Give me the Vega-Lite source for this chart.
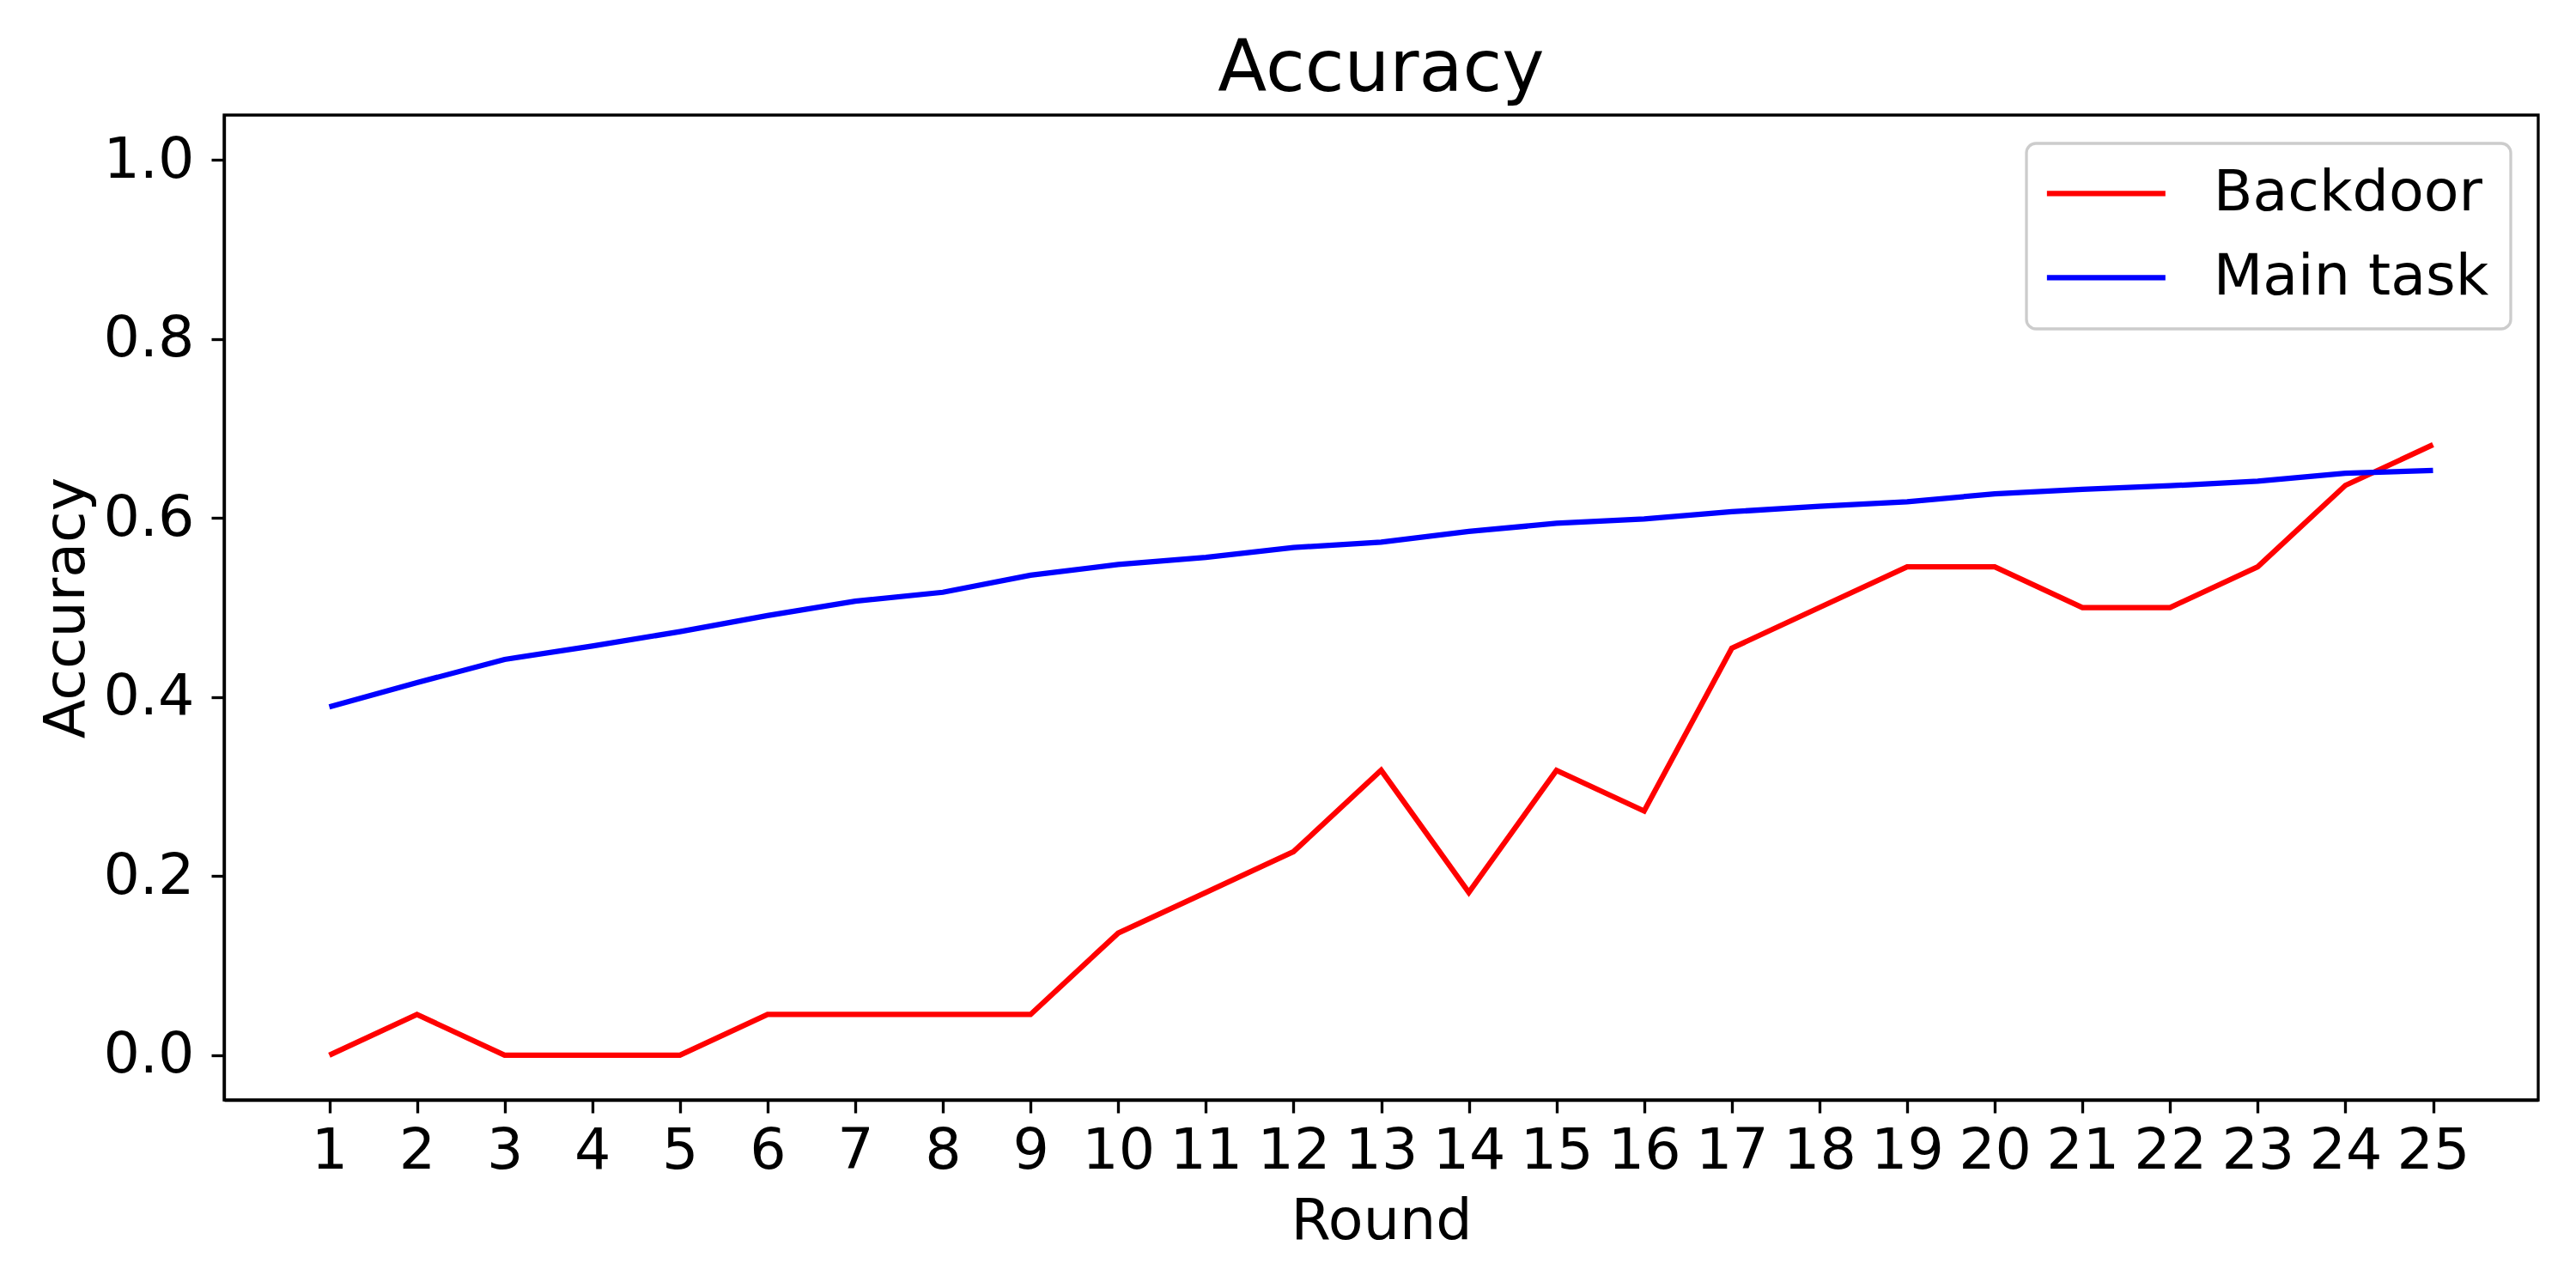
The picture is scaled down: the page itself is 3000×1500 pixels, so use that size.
{
  "$schema": "https://vega.github.io/schema/vega-lite/v6.json",
  "autosize": {"type": "none"},
  "padding": {"left": 261, "top": 134, "right": 44, "bottom": 219},
  "width": 2695,
  "height": 1147,
  "background": "white",
  "title": {
    "text": "Accuracy",
    "font": "DejaVu Sans",
    "fontSize": 83.3,
    "fontWeight": "normal",
    "color": "black",
    "baseline": "alphabetic",
    "offset": -55,
    "anchor": "middle"
  },
  "data": {
    "values": [
      {"round": 1, "series": "Backdoor", "acc": 0.0},
      {"round": 2, "series": "Backdoor", "acc": 0.0455},
      {"round": 3, "series": "Backdoor", "acc": 0.0},
      {"round": 4, "series": "Backdoor", "acc": 0.0},
      {"round": 5, "series": "Backdoor", "acc": 0.0},
      {"round": 6, "series": "Backdoor", "acc": 0.0455},
      {"round": 7, "series": "Backdoor", "acc": 0.0455},
      {"round": 8, "series": "Backdoor", "acc": 0.0455},
      {"round": 9, "series": "Backdoor", "acc": 0.0455},
      {"round": 10, "series": "Backdoor", "acc": 0.1364},
      {"round": 11, "series": "Backdoor", "acc": 0.1818},
      {"round": 12, "series": "Backdoor", "acc": 0.2273},
      {"round": 13, "series": "Backdoor", "acc": 0.3182},
      {"round": 14, "series": "Backdoor", "acc": 0.1818},
      {"round": 15, "series": "Backdoor", "acc": 0.3182},
      {"round": 16, "series": "Backdoor", "acc": 0.2727},
      {"round": 17, "series": "Backdoor", "acc": 0.4545},
      {"round": 18, "series": "Backdoor", "acc": 0.5},
      {"round": 19, "series": "Backdoor", "acc": 0.5455},
      {"round": 20, "series": "Backdoor", "acc": 0.5455},
      {"round": 21, "series": "Backdoor", "acc": 0.5},
      {"round": 22, "series": "Backdoor", "acc": 0.5},
      {"round": 23, "series": "Backdoor", "acc": 0.5455},
      {"round": 24, "series": "Backdoor", "acc": 0.6364},
      {"round": 25, "series": "Backdoor", "acc": 0.6818},
      {"round": 1, "series": "Main task", "acc": 0.389},
      {"round": 2, "series": "Main task", "acc": 0.416},
      {"round": 3, "series": "Main task", "acc": 0.442},
      {"round": 4, "series": "Main task", "acc": 0.457},
      {"round": 5, "series": "Main task", "acc": 0.473},
      {"round": 6, "series": "Main task", "acc": 0.491},
      {"round": 7, "series": "Main task", "acc": 0.507},
      {"round": 8, "series": "Main task", "acc": 0.517},
      {"round": 9, "series": "Main task", "acc": 0.536},
      {"round": 10, "series": "Main task", "acc": 0.548},
      {"round": 11, "series": "Main task", "acc": 0.556},
      {"round": 12, "series": "Main task", "acc": 0.567},
      {"round": 13, "series": "Main task", "acc": 0.573},
      {"round": 14, "series": "Main task", "acc": 0.585},
      {"round": 15, "series": "Main task", "acc": 0.594},
      {"round": 16, "series": "Main task", "acc": 0.599},
      {"round": 17, "series": "Main task", "acc": 0.607},
      {"round": 18, "series": "Main task", "acc": 0.613},
      {"round": 19, "series": "Main task", "acc": 0.618},
      {"round": 20, "series": "Main task", "acc": 0.627},
      {"round": 21, "series": "Main task", "acc": 0.632},
      {"round": 22, "series": "Main task", "acc": 0.636},
      {"round": 23, "series": "Main task", "acc": 0.641},
      {"round": 24, "series": "Main task", "acc": 0.650},
      {"round": 25, "series": "Main task", "acc": 0.653}
    ]
  },
  "mark": {"type": "line", "strokeWidth": 6.25, "strokeJoin": "miter", "strokeCap": "butt", "clip": true},
  "encoding": {
    "x": {
      "field": "round",
      "type": "quantitative",
      "scale": {"domain": [-0.2, 26.2], "nice": false, "zero": false},
      "axis": {
        "title": "Round",
        "values": [1,2,3,4,5,6,7,8,9,10,11,12,13,14,15,16,17,18,19,20,21,22,23,24,25],
        "format": "d",
        "labelBaseline": "alphabetic",
        "labelPadding": 64,
        "titleBaseline": "alphabetic",
        "titleY": 161
      }
    },
    "y": {
      "field": "acc",
      "type": "quantitative",
      "scale": {"domain": [-0.05, 1.05], "nice": false, "zero": false},
      "axis": {
        "title": "Accuracy",
        "values": [0, 0.2, 0.4, 0.6, 0.8, 1.0],
        "format": ".1f",
        "labelPadding": 20,
        "labelBaseline": "middle",
        "titleBaseline": "alphabetic",
        "titleX": -164
      }
    },
    "color": {
      "field": "series",
      "type": "nominal",
      "scale": {"domain": ["Backdoor", "Main task"], "range": ["#ff0000", "#0000ff"]},
      "legend": {
        "title": null,
        "orient": "none",
        "legendX": 2099,
        "legendY": 33,
        "symbolType": "M-2,0H6",
        "symbolSize": 1190,
        "symbolStrokeWidth": 6.25,
        "labelFont": "DejaVu Sans",
        "labelFontSize": 66.7,
        "labelColor": "black",
        "labelOffset": 126,
        "labelLimit": 1000,
        "padding": 25,
        "rowPadding": 30,
        "strokeColor": "#cccccc",
        "fillColor": "white",
        "cornerRadius": 11
      }
    }
  },
  "config": {
    "view": {"stroke": "black", "strokeWidth": 3.33},
    "axis": {
      "grid": false,
      "domainColor": "black",
      "domainWidth": 3.33,
      "tickColor": "black",
      "tickWidth": 3.33,
      "tickSize": 15,
      "labelFont": "DejaVu Sans",
      "labelFontSize": 66.7,
      "labelColor": "black",
      "titleFont": "DejaVu Sans",
      "titleFontSize": 66.7,
      "titleFontWeight": "normal",
      "titleColor": "black",
      "labelOverlap": false,
      "labelFlush": false
    },
    "legend": {"strokeWidth": 3.33}
  }
}
